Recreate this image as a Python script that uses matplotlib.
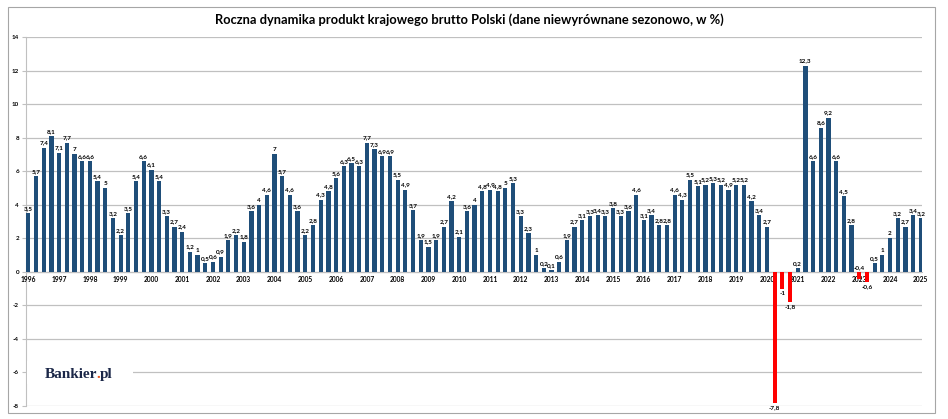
import matplotlib
matplotlib.use("Agg")
import matplotlib.pyplot as plt
import matplotlib.transforms as mtransforms
from matplotlib.patches import Rectangle
import numpy as np

plt.rcParams['font.family'] = ['Lato', 'DejaVu Sans']

# quarterly y/y GDP growth, 1996 Q1 .. 2025 Q1
gdp = [
    3.5, 5.7, 7.4, 8.1,   # 1996
    7.1, 7.7, 7.0, 6.6,   # 1997
    6.6, 5.4, 5.0, 3.2,   # 1998
    2.2, 3.5, 5.4, 6.6,   # 1999
    6.1, 5.4, 3.3, 2.7,   # 2000
    2.4, 1.2, 1.0, 0.5,   # 2001
    0.6, 0.9, 1.9, 2.2,   # 2002
    1.8, 3.6, 4.0, 4.6,   # 2003
    7.0, 5.7, 4.6, 3.6,   # 2004
    2.2, 2.8, 4.3, 4.8,   # 2005
    5.6, 6.3, 6.5, 6.3,   # 2006
    7.7, 7.3, 6.9, 6.9,   # 2007
    5.5, 4.9, 3.7, 1.9,   # 2008
    1.5, 1.9, 2.7, 4.2,   # 2009
    2.1, 3.6, 4.0, 4.8,   # 2010
    4.9, 4.8, 5.0, 5.3,   # 2011
    3.3, 2.3, 1.0, 0.2,   # 2012
    0.1, 0.6, 1.9, 2.7,   # 2013
    3.1, 3.3, 3.4, 3.3,   # 2014
    3.8, 3.3, 3.6, 4.6,   # 2015
    3.1, 3.4, 2.8, 2.8,   # 2016
    4.6, 4.3, 5.5, 5.1,   # 2017
    5.2, 5.3, 5.2, 4.9,   # 2018
    5.2, 5.2, 4.2, 3.4,   # 2019
    2.7, -7.8, -1.0, -1.8,  # 2020
    0.2, 12.3, 6.6, 8.6,  # 2021
    9.2, 6.6, 4.5, 2.8,   # 2022
    -0.4, -0.6, 0.5, 1.0,  # 2023
    2.0, 3.2, 2.7, 3.4,   # 2024
    3.2,                  # 2025
]
years = list(range(1996, 2026))
y_ticks = list(range(-8, 15, 2))

title = "Roczna dynamika produkt krajowego brutto Polski (dane niewyrównane sezonowo, w %)"

navy = "#1f4e79"
red = "#ff0000"
grid_c = "#c0c0c0"

fig = plt.figure(figsize=(9.48, 4.19), dpi=100)
ax = fig.add_axes([26 / 948, 13 / 419, 896 / 948, 369 / 419])

# spines first: set_position resets the tick formatting
for s in ['top', 'right']:
    ax.spines[s].set_visible(False)
ax.spines['bottom'].set_position(('data', 0))
ax.spines['bottom'].set_color(grid_c)
ax.spines['left'].set_color(grid_c)
ax.spines['bottom'].set_zorder(2)
ax.spines['left'].set_zorder(0.4)

x = np.arange(len(gdp))
colors = [navy if v >= 0 else red for v in gdp]
ax.bar(x, gdp, width=0.55, color=colors, zorder=3)

ax.set_ylim(-8, 14)
ax.set_xlim(-0.3, len(gdp) - 0.85)
ax.set_yticks(y_ticks)
ax.set_yticklabels([str(t) for t in y_ticks], fontsize=4.5, fontweight='bold')
ax.set_xticks(x[::4])
ax.set_xticklabels([str(y) for y in years], fontsize=4.8, fontweight='bold')
ax.tick_params(axis='x', length=0, pad=3)
ax.tick_params(axis='y', length=3, width=0.8, color=grid_c, pad=2)

ax.yaxis.grid(True, color=grid_c, linewidth=0.9, zorder=0)
ax.set_axisbelow(True)

# data labels
for xi, v in zip(x, gdp):
    lbl = ('%g' % v).replace('.', ',')
    if v >= 0 or v == -0.4:
        ax.annotate(lbl, (xi, max(v, 0)), xytext=(0, 1.5), textcoords='offset points',
                    ha='center', va='bottom', fontsize=4.6, fontweight='bold', zorder=4)
    else:
        ax.annotate(lbl, (xi, v), xytext=(0, -1.5), textcoords='offset points',
                    ha='center', va='top', fontsize=4.6, fontweight='bold', zorder=4)

fig.text(469 / 948, 1 - 20 / 419, title, ha='center', va='center',
         fontsize=9.3, fontweight='bold')

# logo block covering the gridline
trans = mtransforms.blended_transform_factory(ax.transAxes, ax.transData)
ax.add_patch(Rectangle((0.001, -6.7), 0.118, 1.4, transform=trans,
                       facecolor='white', edgecolor='none', zorder=5))
logo_kw = dict(fontsize=11, fontweight='bold', family='Liberation Serif', va='baseline')
renderer = fig.canvas.get_renderer()


def right_edge(s):
    # right edge (display px) of string s started at the logo origin
    t = ax.text(0.021, -6.35, s, transform=trans, ha='left', **logo_kw)
    r = t.get_window_extent(renderer).x1
    t.remove()
    return r


x_dot = right_edge("Bankier.")
x_end = right_edge("Bankier.pl")
ax.text(0.021, -6.35, "Bankier", transform=trans, ha='left', color='#1b2748', zorder=6, **logo_kw)
y_base = trans.transform((0, -6.35))[1]
disp = mtransforms.IdentityTransform()
ax.text(x_dot, y_base, ".", transform=disp, ha='right', color='#e8541e', zorder=6, **logo_kw)
ax.text(x_end, y_base, "pl", transform=disp, ha='right', color='#1b2748', zorder=6, **logo_kw)

# outer frame
fig.add_artist(Rectangle((8 / 948, 6 / 419), 927 / 948, 406 / 419, transform=fig.transFigure,
                         facecolor='none', edgecolor='#a6a6a6', linewidth=0.8))

fig.savefig("out.png", dpi=100)
